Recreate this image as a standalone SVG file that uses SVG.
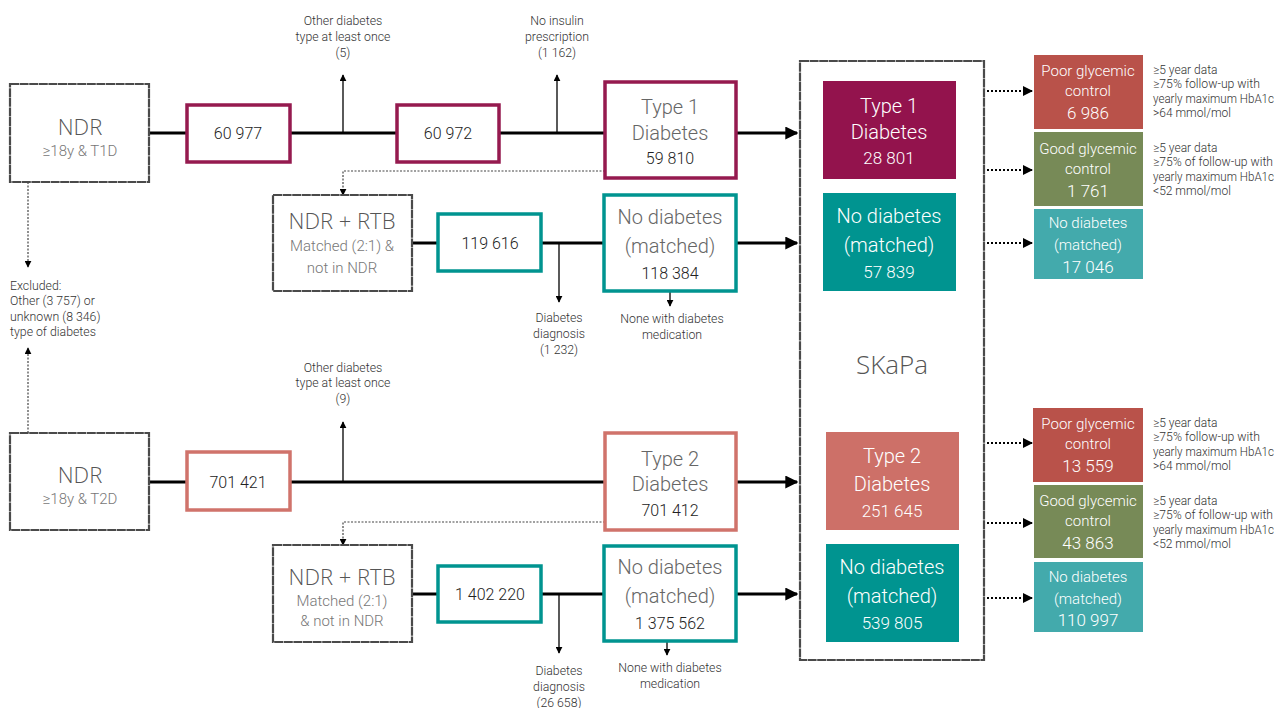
<svg xmlns="http://www.w3.org/2000/svg" width="1279" height="708" viewBox="0 0 1279 708">
<defs>
<marker id="ah" viewBox="0 0 10 10" refX="9" refY="5" markerWidth="10" markerHeight="10" markerUnits="userSpaceOnUse" orient="auto"><path d="M0,0 L10,5 L0,10 z" fill="#000"/></marker>
<marker id="ahs" viewBox="0 0 10 10" refX="9" refY="5" markerWidth="7" markerHeight="7" markerUnits="userSpaceOnUse" orient="auto"><path d="M0,0 L10,5 L0,10 z" fill="#000"/></marker>
<marker id="ahb" viewBox="0 0 10 10" refX="9" refY="5" markerWidth="13" markerHeight="13" markerUnits="userSpaceOnUse" orient="auto"><path d="M0,0 L10,5 L0,10 z" fill="#000"/></marker>
</defs>
<style>
text{font-family:"Roboto","Liberation Sans",sans-serif;font-weight:300;text-anchor:middle}
.rough{fill:#fff;stroke:#4a4a4a;stroke-width:2.2;stroke-dasharray:9 0.6}
.hand{font-family:"Open Sans","Liberation Sans",sans-serif;font-size:22px;fill:#555;font-weight:300}
.sub{font-size:15px;fill:#777}
.num{font-size:16px;fill:#222}
.big{font-size:20px;fill:#666}
.wbig{font-size:20px;fill:#fff}
.wnum{font-size:17px;fill:#fff}
.wsm{font-size:15px;fill:#fff}
.sm{font-size:12.3px;fill:#333}
.note{font-size:12px;fill:#333;text-anchor:start}
.maroon{fill:#fff;stroke:#951a4f;stroke-width:3.5}
.teal{fill:#fff;stroke:#009490;stroke-width:3.5}
.salmon{fill:#fff;stroke:#d0736b;stroke-width:3.5}
.main{stroke:#000;stroke-width:3;fill:none}
.thin{stroke:#000;stroke-width:1.3;fill:none}
.dot{stroke:#444;stroke-width:1.2;stroke-dasharray:2 1.5;fill:none}
.dotb{stroke:#000;stroke-width:2;stroke-dasharray:2 2;fill:none}
</style>

<g id="connectors">
<line class="main" x1="149" y1="133" x2="187" y2="133"/>
<line class="main" x1="290" y1="133" x2="397" y2="133"/>
<line class="main" x1="499" y1="133" x2="605" y2="133"/>
<line class="main" x1="736" y1="133" x2="797" y2="133" marker-end="url(#ahb)"/>
<line class="thin" x1="343" y1="133" x2="343" y2="75" marker-end="url(#ahs)"/>
<line class="thin" x1="557" y1="133" x2="557" y2="75" marker-end="url(#ahs)"/>
<path class="dot" d="M605,171 H343 V195" marker-end="url(#ahs)"/>
<line class="main" x1="412" y1="243" x2="438" y2="243"/>
<line class="main" x1="541" y1="243" x2="604" y2="243"/>
<line class="main" x1="736" y1="243" x2="797" y2="243" marker-end="url(#ahb)"/>
<line class="thin" x1="559" y1="243" x2="559" y2="302" marker-end="url(#ahs)"/>
<line class="thin" x1="670" y1="291" x2="670" y2="306" marker-end="url(#ahs)"/>
<line class="dot" x1="28" y1="182" x2="28" y2="267" marker-end="url(#ahs)"/>
<line class="dot" x1="28" y1="433" x2="28" y2="348" marker-end="url(#ahs)"/>
<line class="main" x1="149" y1="482" x2="187" y2="482"/>
<line class="main" x1="290" y1="482" x2="605" y2="482"/>
<line class="main" x1="736" y1="482" x2="797" y2="482" marker-end="url(#ahb)"/>
<line class="thin" x1="343" y1="482" x2="343" y2="422" marker-end="url(#ahs)"/>
<path class="dot" d="M605,522 H343 V545" marker-end="url(#ahs)"/>
<line class="main" x1="412" y1="594" x2="438" y2="594"/>
<line class="main" x1="541" y1="594" x2="604" y2="594"/>
<line class="main" x1="736" y1="594" x2="797" y2="594" marker-end="url(#ahb)"/>
<line class="thin" x1="559" y1="594" x2="559" y2="653" marker-end="url(#ahs)"/>
<line class="thin" x1="667" y1="641" x2="667" y2="655" marker-end="url(#ahs)"/>
<line class="dotb" x1="987" y1="91" x2="1032" y2="91" marker-end="url(#ah)"/>
<line class="dotb" x1="987" y1="170" x2="1032" y2="170" marker-end="url(#ah)"/>
<line class="dotb" x1="987" y1="243" x2="1032" y2="243" marker-end="url(#ah)"/>
<line class="dotb" x1="987" y1="443" x2="1032" y2="443" marker-end="url(#ah)"/>
<line class="dotb" x1="987" y1="523" x2="1032" y2="523" marker-end="url(#ah)"/>
<line class="dotb" x1="987" y1="598" x2="1032" y2="598" marker-end="url(#ah)"/>
</g>

<g id="labels">
<text class="sm" x="343" y="25">Other diabetes</text>
<text class="sm" x="343" y="41">type at least once</text>
<text class="sm" x="343" y="57">(5)</text>
<text class="sm" x="557" y="25">No insulin</text>
<text class="sm" x="557" y="41">prescription</text>
<text class="sm" x="557" y="57">(1 162)</text>
<text class="sm" x="559" y="322">Diabetes</text>
<text class="sm" x="559" y="338">diagnosis</text>
<text class="sm" x="559" y="354">(1 232)</text>
<text class="sm" x="672" y="323">None with diabetes</text>
<text class="sm" x="672" y="339">medication</text>
<text class="note" x="10" y="290" style="font-size:12.3px">Excluded:</text>
<text class="note" x="10" y="305" style="font-size:12.3px">Other (3 757) or</text>
<text class="note" x="10" y="321" style="font-size:12.3px">unknown (8 346)</text>
<text class="note" x="10" y="336" style="font-size:12.3px">type of diabetes</text>
<text class="sm" x="343" y="372">Other diabetes</text>
<text class="sm" x="343" y="387">type at least once</text>
<text class="sm" x="343" y="403">(9)</text>
<text class="sm" x="559" y="675">Diabetes</text>
<text class="sm" x="559" y="691">diagnosis</text>
<text class="sm" x="559" y="707">(26 658)</text>
<text class="sm" x="670" y="672">None with diabetes</text>
<text class="sm" x="670" y="688">medication</text>
<text class="note" x="1153" y="74">≥5 year data</text>
<text class="note" x="1153" y="88" textLength="107" lengthAdjust="spacingAndGlyphs">≥75% follow-up with</text>
<text class="note" x="1153" y="103" textLength="121" lengthAdjust="spacingAndGlyphs">yearly maximum HbA1c</text>
<text class="note" x="1153" y="117">&gt;64 mmol/mol</text>
<text class="note" x="1153" y="152">≥5 year data</text>
<text class="note" x="1153" y="166" textLength="120" lengthAdjust="spacingAndGlyphs">≥75% of follow-up with</text>
<text class="note" x="1153" y="181" textLength="121" lengthAdjust="spacingAndGlyphs">yearly maximum HbA1c</text>
<text class="note" x="1153" y="195">&lt;52 mmol/mol</text>
<text class="note" x="1153" y="427">≥5 year data</text>
<text class="note" x="1153" y="441" textLength="107" lengthAdjust="spacingAndGlyphs">≥75% follow-up with</text>
<text class="note" x="1153" y="456" textLength="121" lengthAdjust="spacingAndGlyphs">yearly maximum HbA1c</text>
<text class="note" x="1153" y="470">&gt;64 mmol/mol</text>
<text class="note" x="1153" y="505">≥5 year data</text>
<text class="note" x="1153" y="519" textLength="120" lengthAdjust="spacingAndGlyphs">≥75% of follow-up with</text>
<text class="note" x="1153" y="534" textLength="121" lengthAdjust="spacingAndGlyphs">yearly maximum HbA1c</text>
<text class="note" x="1153" y="548">&lt;52 mmol/mol</text>
</g>

<g id="ndr-t1d">
<rect class="rough" x="10" y="84" width="139" height="98"/>
<text class="hand" x="80" y="135">NDR</text>
<text class="sub" x="80" y="156">≥18y &amp; T1D</text>
</g>
<g id="n60977">
<rect class="maroon" x="187" y="105" width="103" height="57"/>
<text class="num" x="238" y="139">60 977</text>
</g>
<g id="n60972">
<rect class="maroon" x="397" y="105" width="102" height="57"/>
<text class="num" x="448" y="139">60 972</text>
</g>
<g id="type1">
<rect class="maroon" x="605" y="82" width="131" height="96"/>
<text class="big" x="670" y="114">Type 1</text>
<text class="big" x="670" y="140">Diabetes</text>
<text class="num" x="670" y="164">59 810</text>
</g>
<g id="ndrrtb1">
<rect class="rough" x="273" y="195" width="139" height="96"/>
<text class="hand" x="342" y="229">NDR + RTB</text>
<text class="sub" x="342" y="251">Matched (2:1) &amp;</text>
<text class="sub" x="342" y="273">not in NDR</text>
</g>
<g id="n119616">
<rect class="teal" x="438" y="214" width="103" height="57"/>
<text class="num" x="490" y="249">119 616</text>
</g>
<g id="nodiab1">
<rect class="teal" x="604" y="195" width="132" height="96"/>
<text class="big" x="670" y="224">No diabetes</text>
<text class="big" x="670" y="253">(matched)</text>
<text class="num" x="670" y="279">118 384</text>
</g>
<g id="ndr-t2d">
<rect class="rough" x="10" y="433" width="139" height="97"/>
<text class="hand" x="80" y="483">NDR</text>
<text class="sub" x="80" y="504">≥18y &amp; T2D</text>
</g>
<g id="n701421">
<rect class="salmon" x="187" y="452" width="103" height="58"/>
<text class="num" x="238" y="488">701 421</text>
</g>
<g id="type2">
<rect class="salmon" x="605" y="433" width="131" height="97"/>
<text class="big" x="670" y="466">Type 2</text>
<text class="big" x="670" y="491">Diabetes</text>
<text class="num" x="670" y="516">701 412</text>
</g>
<g id="ndrrtb2">
<rect class="rough" x="273" y="545" width="139" height="97"/>
<text class="hand" x="342" y="585">NDR + RTB</text>
<text class="sub" x="342" y="606">Matched (2:1)</text>
<text class="sub" x="342" y="626">&amp; not in NDR</text>
</g>
<g id="n1402220">
<rect class="teal" x="438" y="566" width="103" height="56"/>
<text class="num" x="490" y="600">1 402 220</text>
</g>
<g id="nodiab2">
<rect class="teal" x="604" y="546" width="132" height="95"/>
<text class="big" x="670" y="574">No diabetes</text>
<text class="big" x="670" y="603">(matched)</text>
<text class="num" x="670" y="629">1 375 562</text>
</g>

<g id="skapa">
<rect class="rough" x="800" y="61" width="184" height="599"/>
<text class="hand" x="892" y="374" style="font-size:26px">SKaPa</text>
</g>
<g id="s-type1">
<rect x="823" y="81" width="133" height="98" fill="#93134d"/>
<text class="wbig" x="889" y="113">Type 1</text>
<text class="wbig" x="889" y="139">Diabetes</text>
<text class="wnum" x="889" y="164">28 801</text>
</g>
<g id="s-nod1">
<rect x="823" y="193" width="133" height="98" fill="#009490"/>
<text class="wbig" x="889" y="223">No diabetes</text>
<text class="wbig" x="889" y="252">(matched)</text>
<text class="wnum" x="889" y="278">57 839</text>
</g>
<g id="s-type2">
<rect x="826" y="432" width="133" height="98" fill="#cd7068"/>
<text class="wbig" x="892" y="463">Type 2</text>
<text class="wbig" x="892" y="491">Diabetes</text>
<text class="wnum" x="892" y="517">251 645</text>
</g>
<g id="s-nod2">
<rect x="826" y="544" width="133" height="98" fill="#009490"/>
<text class="wbig" x="892" y="574">No diabetes</text>
<text class="wbig" x="892" y="603">(matched)</text>
<text class="wnum" x="892" y="629">539 805</text>
</g>
<g id="poor1">
<rect x="1034" y="55" width="109" height="74" fill="#b9524a"/>
<text class="wsm" x="1088" y="76">Poor glycemic</text>
<text class="wsm" x="1088" y="96">control</text>
<text class="wnum" x="1088" y="119">6 986</text>
</g>
<g id="good1">
<rect x="1034" y="132" width="109" height="74" fill="#778a57"/>
<text class="wsm" x="1088" y="154">Good glycemic</text>
<text class="wsm" x="1088" y="174">control</text>
<text class="wnum" x="1088" y="197">1 761</text>
</g>
<g id="nod1">
<rect x="1034" y="209" width="109" height="70" fill="#43aaac"/>
<text class="wsm" x="1088" y="228">No diabetes</text>
<text class="wsm" x="1088" y="250">(matched)</text>
<text class="wnum" x="1088" y="273">17 046</text>
</g>
<g id="poor2">
<rect x="1033" y="408" width="110" height="74" fill="#b9524a"/>
<text class="wsm" x="1088" y="429">Poor glycemic</text>
<text class="wsm" x="1088" y="449">control</text>
<text class="wnum" x="1088" y="472">13 559</text>
</g>
<g id="good2">
<rect x="1034" y="485" width="109" height="73" fill="#778a57"/>
<text class="wsm" x="1088" y="506">Good glycemic</text>
<text class="wsm" x="1088" y="526">control</text>
<text class="wnum" x="1088" y="549">43 863</text>
</g>
<g id="nod2">
<rect x="1034" y="562" width="109" height="70" fill="#43aaac"/>
<text class="wsm" x="1088" y="582">No diabetes</text>
<text class="wsm" x="1088" y="604">(matched)</text>
<text class="wnum" x="1088" y="626">110 997</text>
</g>
</svg>
